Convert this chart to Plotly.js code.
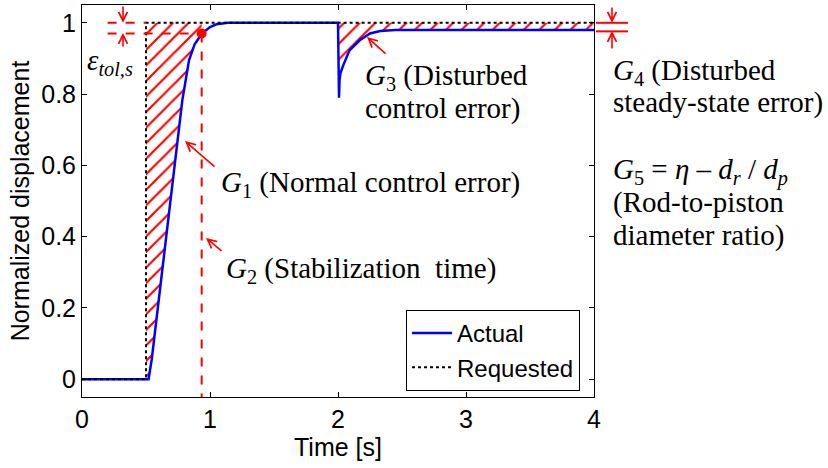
<!DOCTYPE html>
<html>
<head>
<meta charset="utf-8">
<script src="https://cdn.plot.ly/plotly-3.0.1.min.js"></script>
<style>html,body{margin:0;padding:0;background:#fff;}#chart{width:828px;height:468px;}</style>
</head>
<body>
<div id="chart"></div>
<script>
// ---- data ----
const actualTime = [0, 0.5, 0.52, 0.545, 0.6, 0.69, 0.75, 0.784, 0.836, 0.88, 0.935, 1.0, 1.05, 1.14, 2.0,
                    2.003, 2.006, 2.008, 2.012, 2.02, 2.04, 2.09, 2.17, 2.25, 2.33, 2.45, 3.0, 4.0];
const actualValue = [0, 0, 0, 0.056, 0.224, 0.503, 0.68, 0.783, 0.895, 0.94, 0.969, 0.988, 0.996, 1.0, 1.0,
                    0.93, 0.80, 0.79, 0.84, 0.86, 0.88, 0.923, 0.951, 0.97, 0.977, 0.98, 0.98, 0.98];
const requestedTime = [0, 0.5, 0.5, 4];
const requestedValue = [0, 0, 1, 1];
const stepTime = 0.5;
const stabilizationTime = 0.935;
const stabilizationValue = 0.97;
const disturbanceTime = 2.0;
const steadyValue = 0.976;
const tolLeft = 0.2;
const xTicks = [0, 1, 2, 3, 4];
const yTicks = [0, 0.2, 0.4, 0.6, 0.8, 1];
const yTickText = ['0', '0.2', '0.4', '0.6', '0.8', '1'];

// ---- layout geometry ----
const W = 828, H = 468, ML = 82, MR = 234, MT = 5, MB = 71;
const PW = W - ML - MR, PH = H - MT - MB;
const XR = [0, 4], YR = [-0.05, 1.05];
const px = p => (p - ML) / PW;           // pixel -> paper x
const py = p => (H - MB - p) / PH;        // pixel -> paper y
const yp = v => (v - YR[0]) / (YR[1] - YR[0]); // data y -> paper y
const RED = '#ff0000';
const SANS = 'Liberation Sans, Arial, sans-serif';

// hatch polygons built from the data arrays
const g1x = [stepTime, stepTime, stabilizationTime], g1y = [0, 1, 1];
for (let i = actualTime.length - 1; i >= 0; i--) {
  if (actualTime[i] <= stabilizationTime && actualTime[i] > stepTime) { g1x.push(actualTime[i]); g1y.push(actualValue[i]); }
}
g1x.push(stepTime); g1y.push(0);
const g3x = [disturbanceTime, 4], g3y = [1, 1];
for (let i = actualTime.length - 1; i >= 0; i--) {
  if (actualTime[i] >= disturbanceTime) { g3x.push(actualTime[i]); g3y.push(actualValue[i]); }
}

const hatch = {shape: '/', fgcolor: RED, bgcolor: 'rgba(0,0,0,0)', size: 11, solidity: 0.2};
const traces = [
  {x: g1x, y: g1y, mode: 'lines', fill: 'toself', fillcolor: 'rgba(0,0,0,0)', fillpattern: hatch,
   line: {width: 0, color: 'rgba(0,0,0,0)'}, showlegend: false, hoverinfo: 'skip'},
  {x: g3x, y: g3y, mode: 'lines', fill: 'toself', fillcolor: 'rgba(0,0,0,0)', fillpattern: hatch,
   line: {width: 0, color: 'rgba(0,0,0,0)'}, showlegend: false, hoverinfo: 'skip'},
  {x: actualTime, y: actualValue, mode: 'lines', name: 'Actual', line: {color: '#0000ff', width: 2.5}},
  {x: requestedTime, y: requestedValue, mode: 'lines', name: 'Requested', line: {color: '#000000', width: 2, dash: 'dot'}},
  {x: [stabilizationTime], y: [stabilizationValue], mode: 'markers', marker: {color: RED, size: 10}, showlegend: false, hoverinfo: 'skip'}
];

const dash = 'dash';
const shapes = [
  {type: 'line', xref: 'x', yref: 'y', x0: stabilizationTime, x1: stabilizationTime, y0: stabilizationValue, y1: YR[0],
   line: {color: RED, width: 2, dash: dash}},
  {type: 'line', xref: 'x', yref: 'y', x0: tolLeft, x1: stabilizationTime, y0: stabilizationValue, y1: stabilizationValue,
   line: {color: RED, width: 2, dash: dash}},
  {type: 'line', xref: 'x', yref: 'y', x0: tolLeft, x1: stepTime, y0: 1, y1: 1,
   line: {color: RED, width: 2, dash: dash}},
  {type: 'line', xref: 'paper', yref: 'paper', x0: px(596), x1: px(628), y0: yp(1), y1: yp(1), line: {color: RED, width: 2}},
  {type: 'line', xref: 'paper', yref: 'paper', x0: px(596), x1: px(628), y0: yp(steadyValue), y1: yp(steadyValue), line: {color: RED, width: 2}}
];

const serif = {family: 'Liberation Serif, Times New Roman, serif', size: 29, color: '#000'};
function label(text, xl, yc) {
  return {text: text, xref: 'paper', yref: 'paper', x: px(xl), y: py(yc), xanchor: 'left', yanchor: 'middle',
          showarrow: false, font: serif};
}
function arrow(hx, hy, tx, ty) {
  return {text: '', xref: 'paper', yref: 'paper', x: px(hx), y: py(hy), ax: tx - hx, ay: ty - hy,
          showarrow: true, arrowhead: 5, arrowsize: 1.1, arrowwidth: 1.6, arrowcolor: RED, standoff: 0};
}
const annotations = [
  label('<i>ε</i><sub><i>tol,s</i></sub>', 85, 62),
  label('<i>G</i><sub>1</sub> (Normal control error)', 219, 184),
  label('<i>G</i><sub>2</sub> (Stabilization  time)', 224, 270),
  label('<i>G</i><sub>3</sub> (Disturbed', 363, 77),
  label('control error)', 363, 108),
  label('<i>G</i><sub>4</sub> (Disturbed', 611, 72),
  label('steady-state error)', 611, 102),
  label('<i>G</i><sub>5</sub> = <i>η</i> – <i>d</i><sub><i>r</i></sub> / <i>d</i><sub><i>p</i></sub>', 611, 172),
  label('(Rod-to-piston', 611, 203),
  label('diameter ratio)', 611, 235),
  arrow(185, 141, 216, 168),
  arrow(206, 238, 223, 252),
  arrow(367, 37, 387, 55),
  arrow(123, 22.7, 123, 5),
  arrow(123, 33, 123, 48),
  arrow(612, 22.7, 612, 6),
  arrow(612, 31, 612, 50)
];

const axisCommon = {showline: true, linecolor: '#000', linewidth: 1, mirror: 'ticks', ticks: 'inside', ticklen: 5,
  tickcolor: '#000', showgrid: false, zeroline: false, automargin: false,
  tickfont: {family: SANS, size: 25, color: '#000'}};

const layout = {
  width: W, height: H, margin: {l: ML, r: MR, t: MT, b: MB, pad: 0},
  paper_bgcolor: '#fff', plot_bgcolor: '#fff',
  xaxis: Object.assign({}, axisCommon, {range: XR, tickvals: xTicks, ticktext: xTicks.map(String),
    title: {text: 'Time [s]', font: {family: SANS, size: 25, color: '#000'}, standoff: 4}}),
  yaxis: Object.assign({}, axisCommon, {range: YR, tickvals: yTicks, ticktext: yTickText,
    title: {text: 'Normalized displacement', font: {family: SANS, size: 25, color: '#000'}, standoff: 4}}),
  legend: {x: px(580), y: py(391), xanchor: 'right', yanchor: 'bottom', bgcolor: '#fff', bordercolor: '#000', borderwidth: 1,
    font: {family: SANS, size: 24, color: '#000'}, itemwidth: 40, tracegroupgap: 0},
  shapes: shapes,
  annotations: annotations,
  showlegend: true
};

Plotly.newPlot('chart', traces, layout, {staticPlot: true, displayModeBar: false});
</script>
</body>
</html>
